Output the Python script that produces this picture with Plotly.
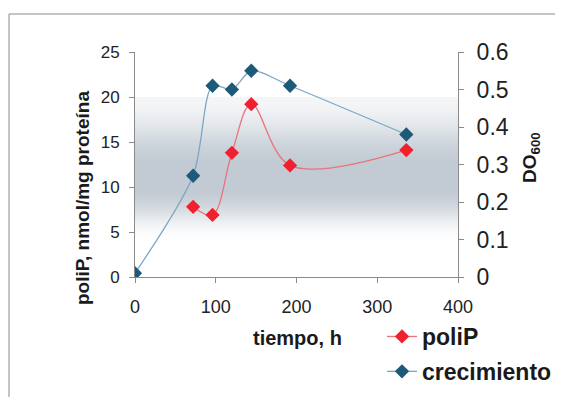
import plotly.graph_objects as go
import numpy as np

# ---- data ----
tiempo_poliP = [72, 96, 120, 144, 192, 336]
poliP = [7.8, 6.9, 13.8, 19.2, 12.4, 14.1]
tiempo_crec = [0, 72, 96, 120, 144, 192, 336]
crecimiento = [0.01, 0.27, 0.51, 0.50, 0.55, 0.51, 0.38]
x_ticks = [0, 100, 200, 300, 400]
y1_ticks = [0, 5, 10, 15, 20, 25]
y2_ticks = [0, 0.1, 0.2, 0.3, 0.4, 0.5, 0.6]
y2_labels = ["0", "0.1", "0.2", "0.3", "0.4", "0.5", "0.6"]

FONT = "Liberation Sans, Arial, sans-serif"
W, H = 573, 397
L, R, T, B = 135, 458, 52, 277  # plot area in px

def px_to_paper_x(px):
    return (px - L) / (R - L)

def px_to_paper_y(py):
    return (B - py) / (B - T)

fig = go.Figure()

fig.add_trace(go.Scatter(
    x=tiempo_poliP, y=poliP, name="poliP", mode="lines+markers",
    line=dict(color="#e8737c", width=1.3, shape="spline", smoothing=1),
    marker=dict(symbol="diamond", size=11, color="#f0202e"),
    yaxis="y", legendgroup="a"))

fig.add_trace(go.Scatter(
    x=tiempo_crec, y=crecimiento, name="crecimiento", mode="lines+markers",
    line=dict(color="#7ba7c6", width=1.3, shape="spline", smoothing=0.8),
    marker=dict(symbol="diamond", size=11, color="#1d5a79"),
    yaxis="y2", legendgroup="b"))

# gradient background band (decoration)
shapes = []
y_top, y_bot = 97, 242
n = 145
dark = np.array([194, 202, 211])
edges = np.linspace(y_top, y_bot, n + 1)
for i in range(n):
    ym = 0.5 * (edges[i] + edges[i + 1])
    if ym < 168:
        t = (ym - y_top) / (168 - y_top)
        I = 0.18 + 0.82 * (0.5 * (1 - np.cos(np.pi * t)))
    elif ym < 188:
        I = 1.0
    else:
        t = (ym - 188) / (y_bot - 188)
        I = 0.5 * (1 + np.cos(np.pi * t))
    c = (255 * (1 - I) + dark * I).round().astype(int)
    shapes.append(dict(type="rect", xref="paper", yref="paper",
                       x0=0, x1=1,
                       y0=px_to_paper_y(edges[i + 1]) - 0.002, y1=px_to_paper_y(edges[i]),
                       fillcolor=f"rgb({c[0]},{c[1]},{c[2]})",
                       line=dict(width=0), layer="below"))

# outer frame lines (top and left)
shapes.append(dict(type="line", xref="paper", yref="paper",
                   x0=px_to_paper_x(9), x1=px_to_paper_x(555),
                   y0=px_to_paper_y(14), y1=px_to_paper_y(14),
                   line=dict(color="#8a8a8a", width=1)))
shapes.append(dict(type="line", xref="paper", yref="paper",
                   x0=px_to_paper_x(9), x1=px_to_paper_x(9),
                   y0=px_to_paper_y(14), y1=px_to_paper_y(400),
                   line=dict(color="#8a8a8a", width=1)))

annotations = [
    dict(text="tiempo, h", xref="paper", yref="paper",
         x=px_to_paper_x(297), y=px_to_paper_y(338),
         xanchor="center", yanchor="middle", showarrow=False,
         font=dict(family=FONT, size=20, color="#1a1a1a", weight="bold")),
    dict(text="poliP, nmol/mg proteína", xref="paper", yref="paper",
         x=px_to_paper_x(82), y=px_to_paper_y(198), textangle=-90,
         xanchor="center", yanchor="middle", showarrow=False,
         font=dict(family=FONT, size=19, color="#1a1a1a", weight="bold")),
    dict(text="DO<sub>600</sub>", xref="paper", yref="paper",
         x=px_to_paper_x(531), y=px_to_paper_y(158), textangle=-90,
         xanchor="center", yanchor="middle", showarrow=False,
         font=dict(family=FONT, size=19, color="#1a1a1a", weight="bold")),
]

axis_common = dict(showgrid=False, zeroline=False, showline=True,
                   linecolor="#8a8a8a", linewidth=1, ticks="outside",
                   tickcolor="#8a8a8a", ticklen=5, automargin=False)

fig.update_layout(
    width=W, height=H,
    margin=dict(l=L, r=W - R, t=T, b=H - B, autoexpand=False),
    paper_bgcolor="white", plot_bgcolor="white",
    font=dict(family=FONT, color="#222"),
    shapes=shapes, annotations=annotations,
    xaxis=dict(range=[0, 400], tickvals=x_ticks, **axis_common,
               tickfont=dict(size=18, color="#222"), ticklabelstandoff=8),
    yaxis=dict(range=[0, 25], tickvals=y1_ticks, **axis_common,
               tickfont=dict(size=17, color="#222"), ticklabelstandoff=6),
    yaxis2=dict(range=[0, 0.6], tickvals=y2_ticks, ticktext=y2_labels,
                overlaying="y", side="right",
                **axis_common, tickfont=dict(size=23, color="#222"),
                ticklabelstandoff=8),
    showlegend=True,
    legend=dict(x=px_to_paper_x(382), y=px_to_paper_y(315),
                xanchor="left", yanchor="top",
                traceorder="grouped", tracegroupgap=2,
                bgcolor="rgba(0,0,0,0)",
                font=dict(family=FONT, size=23, color="#1a1a1a", weight="bold")),
)

fig.write_html("out.html")
